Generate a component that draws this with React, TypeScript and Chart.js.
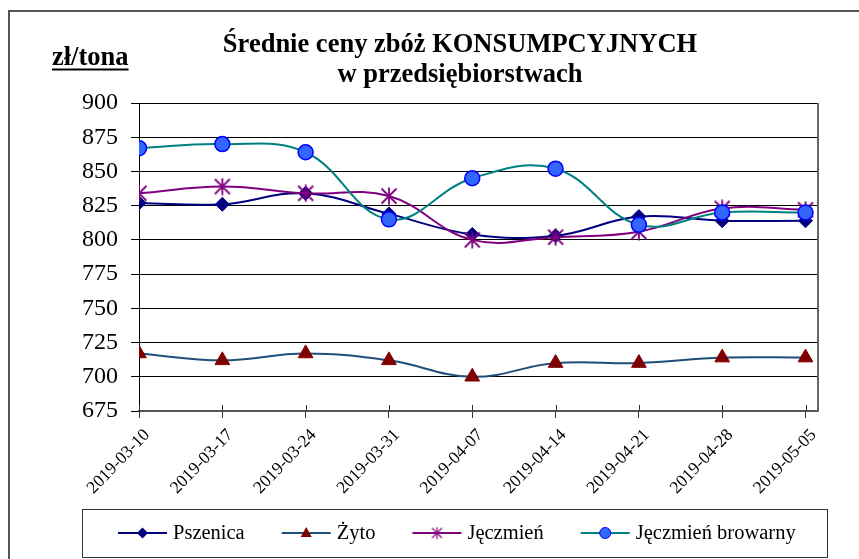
import React, { useEffect, useRef } from "react";
import { Chart, registerables } from "chart.js";

Chart.register(...registerables);

const categories = [
  "2019-03-10", "2019-03-17", "2019-03-24", "2019-03-31", "2019-04-07",
  "2019-04-14", "2019-04-21", "2019-04-28", "2019-05-05",
];
const pszenica = [827, 826, 834, 819, 804, 803, 817, 814, 814];
const zyto = [717, 712, 717, 712, 700, 710, 710, 714, 714];
const jeczmien = [834, 839, 834, 832, 800, 802, 806, 823, 822];
const jeczmienBrowarny = [867, 870, 864, 815, 845, 852, 811, 820, 820];
const seriesNames = ["Pszenica", "Żyto", "Jęczmień", "Jęczmień browarny"];
const yTicks = [675, 700, 725, 750, 775, 800, 825, 850, 875, 900];
const titleLines = ["Średnie ceny zbóż KONSUMPCYJNYCH", "w przedsiębiorstwach"];
const unitLabel = "zł/tona";

const SERIF = "'Liberation Serif', 'Times New Roman', serif";

function makeStar(size: number, color: string, lw: number) {
  const c = document.createElement("canvas");
  c.width = size;
  c.height = size;
  const g = c.getContext("2d")!;
  g.strokeStyle = color;
  g.lineWidth = lw;
  const m = 1.5;
  g.beginPath();
  g.moveTo(m, m);
  g.lineTo(size - m, size - m);
  g.moveTo(size - m, m);
  g.lineTo(m, size - m);
  g.moveTo(size / 2, 0.5);
  g.lineTo(size / 2, size - 0.5);
  g.stroke();
  return c;
}

export default function App() {
  const ref = useRef<HTMLCanvasElement>(null);

  useEffect(() => {
    const canvas = ref.current!;
    const star = makeStar(18, "#800080", 1.8);
    const starSmall = makeStar(13, "#800080", 1.2);

    const toPts = (arr: number[]) => arr.map((y, i) => ({ x: i, y }));

    const styles = [
      { line: "#000080", fill: "#000080", border: "#000080", style: "rectRot" as any, r: 7, order: 3 },
      { line: "#1F4E79", fill: "#800000", border: "#800000", style: "triangle" as any, r: 8.5, order: 2 },
      { line: "#800080", fill: "#800080", border: "#800080", style: star as any, r: 9, order: 1 },
      { line: "#008080", fill: "#3366FF", border: "#0000FF", style: "circle" as any, r: 7.5, order: 0 },
    ];
    const values = [pszenica, zyto, jeczmien, jeczmienBrowarny];

    const decor = {
      id: "decor",
      afterDraw(chart: any) {
        const ctx = chart.ctx as CanvasRenderingContext2D;
        const ca = chart.chartArea;
        const xs = chart.scales.x;
        ctx.save();
        // outer frame
        ctx.strokeStyle = "#555";
        ctx.lineWidth = 2;
        ctx.strokeRect(9, 11, 900, 700);
        // right border of plot
        ctx.strokeStyle = "#666";
        ctx.lineWidth = 2;
        ctx.beginPath();
        ctx.moveTo(ca.right, ca.top);
        ctx.lineTo(ca.right, ca.bottom + 1);
        ctx.stroke();
        // cross tick marks above axis
        ctx.strokeStyle = "#333";
        ctx.lineWidth = 1;
        for (let i = 0; i < categories.length; i++) {
          const x = Math.round(xs.getPixelForValue(i)) + 0.5;
          ctx.beginPath();
          ctx.moveTo(x, ca.bottom - 6);
          ctx.lineTo(x, ca.bottom);
          ctx.stroke();
        }
        // title
        ctx.fillStyle = "#000";
        ctx.font = `bold 26.5px ${SERIF}`;
        ctx.textAlign = "center";
        ctx.textBaseline = "middle";
        ctx.fillText(titleLines[0], 460, 45);
        ctx.fillText(titleLines[1], 460, 75);
        // unit label
        ctx.textAlign = "left";
        ctx.fillText(unitLabel, 52, 58);
        const uw = ctx.measureText(unitLabel).width;
        ctx.fillRect(52, 68.5, uw, 2);
        // legend
        ctx.strokeStyle = "#333";
        ctx.lineWidth = 1;
        ctx.strokeRect(82.5, 509.5, 745, 48);
        ctx.font = `20.5px ${SERIF}`;
        ctx.textBaseline = "middle";
        let x = 118;
        const cy = 533;
        for (let i = 0; i < seriesNames.length; i++) {
          const st = styles[i];
          ctx.strokeStyle = st.line;
          ctx.lineWidth = 2;
          ctx.beginPath();
          ctx.moveTo(x, cy);
          ctx.lineTo(x + 49, cy);
          ctx.stroke();
          const mx = x + 24.5;
          ctx.fillStyle = st.fill;
          ctx.strokeStyle = st.border;
          ctx.lineWidth = 1;
          if (i === 0) {
            ctx.beginPath();
            ctx.moveTo(mx, cy - 5.5);
            ctx.lineTo(mx + 5.5, cy);
            ctx.lineTo(mx, cy + 5.5);
            ctx.lineTo(mx - 5.5, cy);
            ctx.closePath();
            ctx.fill();
          } else if (i === 1) {
            ctx.beginPath();
            ctx.moveTo(mx, cy - 6);
            ctx.lineTo(mx + 5.5, cy + 4);
            ctx.lineTo(mx - 5.5, cy + 4);
            ctx.closePath();
            ctx.fill();
          } else if (i === 2) {
            ctx.drawImage(starSmall, mx - 6.5, cy - 6.5);
          } else {
            ctx.beginPath();
            ctx.arc(mx, cy, 5.5, 0, Math.PI * 2);
            ctx.fill();
            ctx.stroke();
          }
          ctx.fillStyle = "#000";
          ctx.textAlign = "left";
          ctx.fillText(seriesNames[i], x + 55, cy + 1);
          x += 55 + ctx.measureText(seriesNames[i]).width + 37;
        }
        ctx.restore();
      },
    };

    const chart = new Chart(canvas, {
      type: "line",
      data: {
        datasets: seriesNames.map((name, i) => ({
          label: name,
          data: toPts(values[i]),
          borderColor: styles[i].line,
          backgroundColor: styles[i].fill,
          pointBackgroundColor: styles[i].fill,
          pointBorderColor: styles[i].border,
          pointBorderWidth: i === 3 ? 1.5 : 1,
          pointStyle: styles[i].style,
          pointRadius: styles[i].r,
          borderWidth: 2,
          tension: 0.4,
          fill: false,
          order: styles[i].order,
        })),
      },
      options: {
        responsive: false,
        animation: false,
        layout: { padding: { top: 103, right: 41, left: 0, bottom: 0 } },
        plugins: { legend: { display: false }, title: { display: false }, tooltip: { enabled: false } },
        scales: {
          x: {
            type: "linear",
            min: 0,
            max: 8.15,
            afterFit: (s: any) => { s.height = 148; },
            grid: { drawOnChartArea: false, drawTicks: true, tickLength: 7, color: "#333" },
            border: { display: true, color: "#555", width: 2 },
            ticks: {
              stepSize: 1,
              includeBounds: false,
              autoSkip: false,
              maxRotation: 46,
              minRotation: 46,
              color: "#000",
              font: { family: SERIF, size: 17.5 },
              padding: 7,
              labelOffset: 8,
              callback: (v: any) => (Number.isInteger(v) && categories[v] ? categories[v] : ""),
            },
          },
          y: {
            min: 675,
            max: 900,
            afterFit: (s: any) => { s.width = 139; },
            afterBuildTicks: (s: any) => { s.ticks = yTicks.map((v) => ({ value: v })); },
            grid: { color: "#000", lineWidth: 1, drawTicks: true, tickLength: 8 },
            border: { display: true, color: "#000", width: 1 },
            ticks: {
              color: "#000",
              padding: 13,
              font: { family: SERIF, size: 24 },
            },
          },
        },
      },
      plugins: [decor],
    });
    return () => chart.destroy();
  }, []);

  return (
    <div style={{ position: "fixed", left: 0, top: 0, width: 859, height: 559, background: "#fff" }}>
      <canvas ref={ref} width={859} height={559} style={{ display: "block", width: 859, height: 559 }} />
    </div>
  );
}
